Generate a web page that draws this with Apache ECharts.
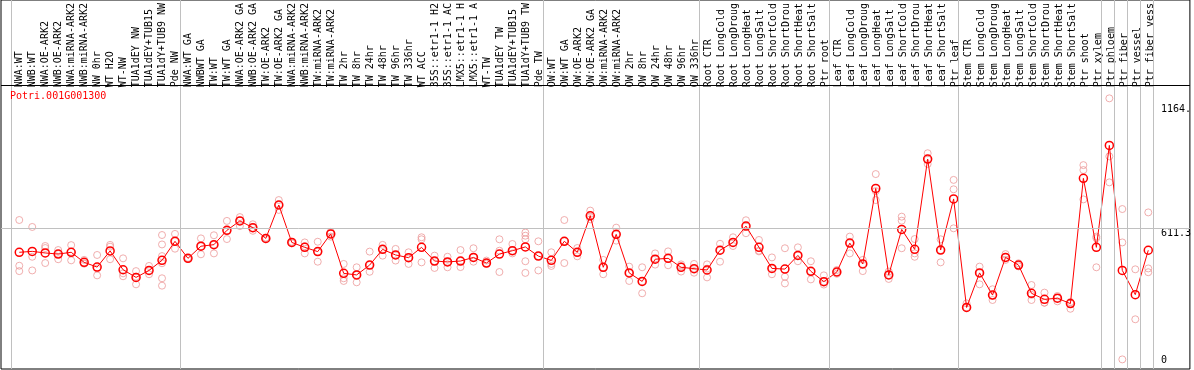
<!DOCTYPE html>
<html><head><meta charset="utf-8">
<script src="https://cdn.jsdelivr.net/npm/echarts@6/dist/echarts.min.js"></script>
<style>html,body{margin:0;padding:0;background:#fff}#c{width:1194px;height:370px}</style>
</head><body><div id="c"></div>
<script>
const categories = ["NWA:WT","NWB:WT","NWA:OE-ARK2","NWB:OE-ARK2","NWA:miRNA-ARK2","NWB:miRNA-ARK2","NW 0hr","WT H2O","WT-NW","TUA1dEY NW","TUA1dEY+TUB15 ","TUA1dY+TUB9 NW","Pde NW",
"NWA:WT GA","NWBWT GA","TW:WT","TW:WT GA","NWA:OE-ARK2 GA","NWB:OE-ARK2 GA","TW:OE-ARK2","TW:OE-ARK2 GA","NWA:miRNA-ARK2","NWB:miRNA-ARK2","TW:miRNA-ARK2","TW:miRNA-ARK2","TW 2hr","TW 8hr","TW 24hr","TW 48hr","TW 96hr","TW 336hr","WT ACC","35S::etr1-1 H2","35S::etr1-1 AC","LMX5::etr1-1 H","LMX5::etr1-1 A","WT-TW","TUA1dEY TW","TUA1dEY+TUB15 ","TUA1dY+TUB9 TW","Pde TW",
"OW:WT","OW:WT GA","OW:OE-ARK2","OW:OE-ARK2 GA","OW:miRNA-ARK2","OW:miRNA-ARK2","OW 2hr","OW 8hr","OW 24hr","OW 48hr","OW 96hr","OW 336hr",
"Root CTR","Root LongCold","Root LongDroug","Root LongHeat","Root LongSalt","Root ShortCold","Root ShortDrou","Root ShortHeat","Root ShortSalt","Ptr root",
"Leaf CTR","Leaf LongCold","Leaf LongDroug","Leaf LongHeat","Leaf LongSalt","Leaf ShortCold","Leaf ShortDrou","Leaf ShortHeat","Leaf ShortSalt","Ptr leaf",
"Stem CTR","Stem LongCold","Stem LongDroug","Stem LongHeat","Stem LongSalt","Stem ShortCold","Stem ShortDrou","Stem ShortHeat","Stem ShortSalt","Ptr shoot","Ptr xylem",
"Ptr phloem","Ptr fiber","Ptr vessel","Ptr fiber vess"];

const meanValues = [503,507,500,495,503,458,437,509,425,391,422,467,552,
476,530,537,601,643,613,565,714,547,525,506,585,409,402,446,516,491,479,525,464,460,464,480,455,495,510,527,486,
467,552,503,666,436,583,411,373,472,476,436,430,
424,512,547,620,525,431,428,489,418,372,
415,544,451,788,402,605,516,919,513,741,
257,411,312,480,446,320,293,298,274,833,525,
980,422,314,512];

const replicates = [
[647,443,419],[616,483,422],[531,522,455],[513,495,472],[535,505,467],[469,454,452],[491,431,400],[536,528,472],[476,409,396],[419,394,360],[442,422,405],[580,538,486,454,387,354],[585,552,519],
[478,476,474],[565,530,494],[579,537,498],[643,600,562],[660,645,620],[628,612,599],[568,566,561],[736,714,692],[550,547,543],[547,530,498],[550,506,461],[594,588,573],[451,387,375],[436,402,369],[506,446,416],[536,516,488],[518,491,466],[503,479,451],[570,561,458],[488,464,433],[483,460,436],[513,464,437],[521,480,461],[466,455,452],[561,510,415],[540,510,498],[591,577,561,463,411],[552,486,422],
[503,451,442],[647,552,455],[522,503,485],[689,660,650],[469,436,405],[613,583,555],[439,411,375],[436,373,320],[498,472,448],[507,476,445],[449,440,417],[451,430,412],
[449,430,391],[541,512,461],[570,547,531],[646,620,588],[558,510,507],[480,431,405],[521,394,364],[525,489,463],[463,418,382],[400,372,359],
[424,415,407],[573,544,498],[469,451,419],[852,776,736],[417,402,384],[662,644,521],[562,498,483],[945,917,897],[561,513,458],[826,784,610],
[275,257],[439,411,360],[338,310,290],[495,480,469],[454,446,440],[357,313,290],[323,278,278],[308,298,284],[281,274,251],[892,870,739],[573,566,436],
[1190,931,815],[696,547,25],[427,204],[681,431,414]];

const yTickValues = [0, 611.3, 1164];
const yTickLabels = ["0", "611.3", "1164."];
const groupEnds = [-1, 12, 40, 52, 62, 72, 83, 84, 85, 86, 87];
const geneName = "Potri.001G001300";

const FONT = "DejaVu Sans Mono";
const xMin = -1.4077, xMax = 90.2077;
const yMin = -17.85, yMax = 1628.8;
const headerLineValue = 1247;

const meanData = meanValues.map((v, i) => [i, v]);
const repData = [];
replicates.forEach((arr, i) => arr.forEach(v => repData.push([i, v])));
const labelFor = v => { const k = yTickValues.indexOf(v); return k >= 0 ? yTickLabels[k] : ""; };

const gray = {color: "#c0c0c0", width: 1, type: "solid"};
const markData = groupEnds.map(b => ({xAxis: b + 0.38, lineStyle: gray}));
markData.push({yAxis: yTickValues[1], lineStyle: gray});
markData.push({yAxis: headerLineValue, lineStyle: {color: "#000", width: 1, type: "solid"}});

const yLabelBase = {margin: 1, align: "left", fontFamily: FONT, fontSize: 10, color: "#000", formatter: labelFor};

const chart = echarts.init(document.getElementById("c"), null, {renderer: "canvas"});
chart.setOption({
  animation: false,
  backgroundColor: "#fff",
  title: {text: geneName, left: 10, top: 91, padding: 0,
    textStyle: {color: "#ff0000", fontSize: 10, fontFamily: FONT, fontWeight: "normal"}},
  grid: [
    {left: 1, right: 2, top: 0, bottom: 1, show: true, borderColor: "#000", borderWidth: 1, backgroundColor: "#fff"},
    {left: 12.8, right: 37.2, top: 86, bottom: 1}
  ],
  xAxis: [
    {type: "value", gridIndex: 0, min: xMin, max: xMax, show: false},
    {type: "category", gridIndex: 1, data: categories, position: "top", boundaryGap: true,
      axisLine: {show: false}, axisTick: {show: false}, splitLine: {show: false},
      axisLabel: {rotate: 90, interval: 0, margin: 2, fontFamily: FONT, fontSize: 10, color: "#000"}}
  ],
  yAxis: [
    {type: "value", gridIndex: 0, min: yMin, max: yMax, position: "right", offset: -30,
      axisLine: {show: false}, axisTick: {show: false}, splitLine: {show: false},
      axisLabel: Object.assign({customValues: [yTickValues[1], yTickValues[2]], verticalAlign: "top"}, yLabelBase)},
    {type: "value", gridIndex: 0, min: yMin, max: yMax, position: "right", offset: -30,
      axisLine: {show: false}, axisTick: {show: false}, splitLine: {show: false},
      axisLabel: Object.assign({customValues: [yTickValues[0]], verticalAlign: "bottom"}, yLabelBase)},
    {type: "value", gridIndex: 1, show: false}
  ],
  series: [
    {type: "line", xAxisIndex: 0, yAxisIndex: 0, data: [], z: 1, silent: true,
      markLine: {silent: true, symbol: ["none", "none"], label: {show: false}, animation: false, data: markData}},
    {type: "scatter", xAxisIndex: 0, yAxisIndex: 0, data: repData, symbol: "circle", symbolSize: 7, z: 2,
      itemStyle: {color: "rgba(0,0,0,0)", borderColor: "#ec9a9a", borderWidth: 1}},
    {type: "line", xAxisIndex: 0, yAxisIndex: 0, data: meanData, symbol: "circle", symbolSize: 8, z: 3,
      lineStyle: {color: "#ff0000", width: 1},
      itemStyle: {color: "rgba(0,0,0,0)", borderColor: "#ff0000", borderWidth: 1.5}}
  ]
});
</script></body></html>
